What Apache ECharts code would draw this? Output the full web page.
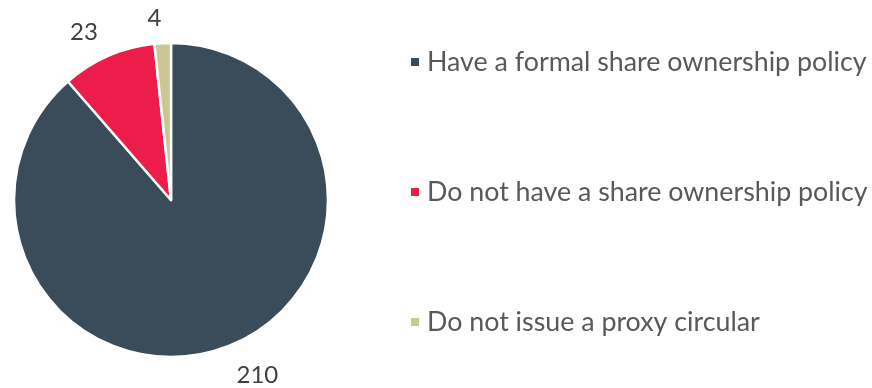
<!DOCTYPE html>
<html><head><meta charset="utf-8">
<script src="https://cdn.jsdelivr.net/npm/echarts@6/dist/echarts.min.js"></script>
<style>html,body{margin:0;padding:0;background:#fff}#c{width:872px;height:388px}</style>
</head><body><div id="c"></div>
<script>
var categories = ["Have a formal share ownership policy", "Do not have a share ownership policy", "Do not issue a proxy circular"];
var values = [210, 23, 4];
var colors = ["#3A4C5A", "#EC1C4B", "#C9C893"];
var labelDist = [30, 26, 25];

var chart = echarts.init(document.getElementById('c'), null, {renderer: 'canvas'});
chart.setOption({
  animation: false,
  color: colors,
  legend: {
    orient: 'vertical',
    left: 404,
    top: 42,
    itemGap: 100,
    icon: 'rect',
    itemWidth: 10,
    itemHeight: 10,
    textStyle: {fontFamily: 'Lato', fontSize: 26.8, color: '#595959', lineHeight: 30, padding: [0, 0, 0, 2]},
    data: categories
  },
  series: [{
    type: 'pie',
    center: [171, 200],
    radius: [0, 157],
    startAngle: 90,
    clockwise: true,
    avoidLabelOverlap: false,
    itemStyle: {borderColor: '#fff', borderWidth: 2.5},
    label: {
      show: true,
      position: 'outside',
      formatter: '{c}',
      fontFamily: 'Lato',
      fontSize: 24,
      color: '#404040',
      distanceToLabelLine: 0
    },
    labelLine: {show: false, length: 30, length2: 0},
    data: categories.map(function(n, i){ return {name: n, value: values[i], labelLine: {length: labelDist[i], length2: 0}}; })
  }]
});
</script></body></html>
